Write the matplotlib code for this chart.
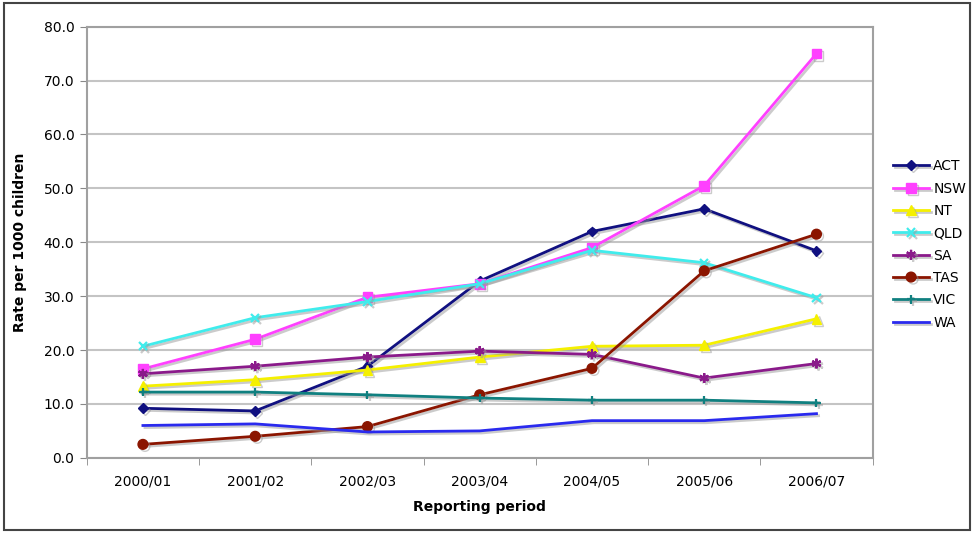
import matplotlib.pyplot as plt
import matplotlib.patheffects as pe
from matplotlib.patches import Rectangle

periodos = ['2000/01', '2001/02', '2002/03', '2003/04', '2004/05', '2005/06', '2006/07']

act = [9.2, 8.7, 17.0, 32.8, 42.0, 46.2, 38.4]
nsw = [16.5, 22.0, 29.8, 32.3, 39.0, 50.5, 75.0]
nt = [13.3, 14.5, 16.3, 18.7, 20.7, 20.9, 25.8]
qld = [20.7, 26.0, 29.0, 32.3, 38.5, 36.2, 29.7]
sa = [15.6, 17.0, 18.7, 19.8, 19.2, 14.8, 17.5]
tas = [2.5, 4.0, 5.8, 11.7, 16.6, 34.7, 41.5]
vic = [12.2, 12.2, 11.7, 11.1, 10.7, 10.7, 10.2]
wa = [6.0, 6.3, 4.8, 5.0, 6.9, 6.9, 8.2]

series = [
    ('ACT', act, '#101080', 'D', 5),
    ('NSW', nsw, '#ff40ff', 's', 7),
    ('NT', nt, '#f5f000', '^', 7),
    ('QLD', qld, '#40ecec', 'x', 6),
    ('SA', sa, '#8a1a8a', (6, 2, 0), 7),
    ('TAS', tas, '#8b1500', 'o', 7),
    ('VIC', vic, '#108080', '+', 6),
    ('WA', wa, '#2a2aee', None, 0),
]

fig = plt.figure(figsize=(9.75, 5.33), dpi=100)
plt.rcParams['font.family'] = 'DejaVu Sans'

# marco exterior
fig.patches.append(Rectangle((0.004, 0.005), 0.991, 0.99, transform=fig.transFigure,
                             fill=False, edgecolor='#444444', linewidth=1.5))

ax = fig.add_axes([0.089, 0.141, 0.806, 0.809])
x = list(range(len(periodos)))

sombra = [pe.SimpleLineShadow(offset=(1.5, -1.5), shadow_color='#999999', alpha=0.5), pe.Normal()]

for nombre, valores, color, marcador, tam in series:
    ax.plot(x, valores, color=color, marker=marcador, markersize=tam, linewidth=2.0,
            markeredgewidth=1.6 if marcador in ('x', '+', (6, 2, 0)) else 1,
            label=nombre, path_effects=sombra, zorder=3)

ax.set_xlim(-0.5, 6.5)
ax.set_ylim(0, 80)
ax.set_yticks([i * 10 for i in range(9)])
ax.set_yticklabels(['%.1f' % (i * 10) for i in range(9)], fontsize=10)
ax.set_xticks(x)
ax.set_xticklabels(periodos, fontsize=10)
ax.set_xticks([i + 0.5 for i in range(-1, 7)], minor=True)
ax.tick_params(axis='x', which='major', length=0, pad=12)
ax.tick_params(axis='x', which='minor', length=5, color='#888888')
ax.tick_params(axis='y', length=5, color='#888888', pad=4)

ax.grid(axis='y', color='#c4c4c4', linewidth=1.5)
ax.set_axisbelow(True)
for lado in ax.spines.values():
    lado.set_color('#a0a0a0')
    lado.set_linewidth(1.5)

ax.set_xlabel('Reporting period', fontsize=10, fontweight='bold', labelpad=8)
ax.set_ylabel('Rate per 1000 children', fontsize=10, fontweight='bold', labelpad=12)

ax.legend(loc='center left', bbox_to_anchor=(1.01, 0.495), frameon=False, fontsize=10,
          handlelength=2.6, labelspacing=0.6, handletextpad=0.3)

fig.savefig('out.png', dpi=100)
